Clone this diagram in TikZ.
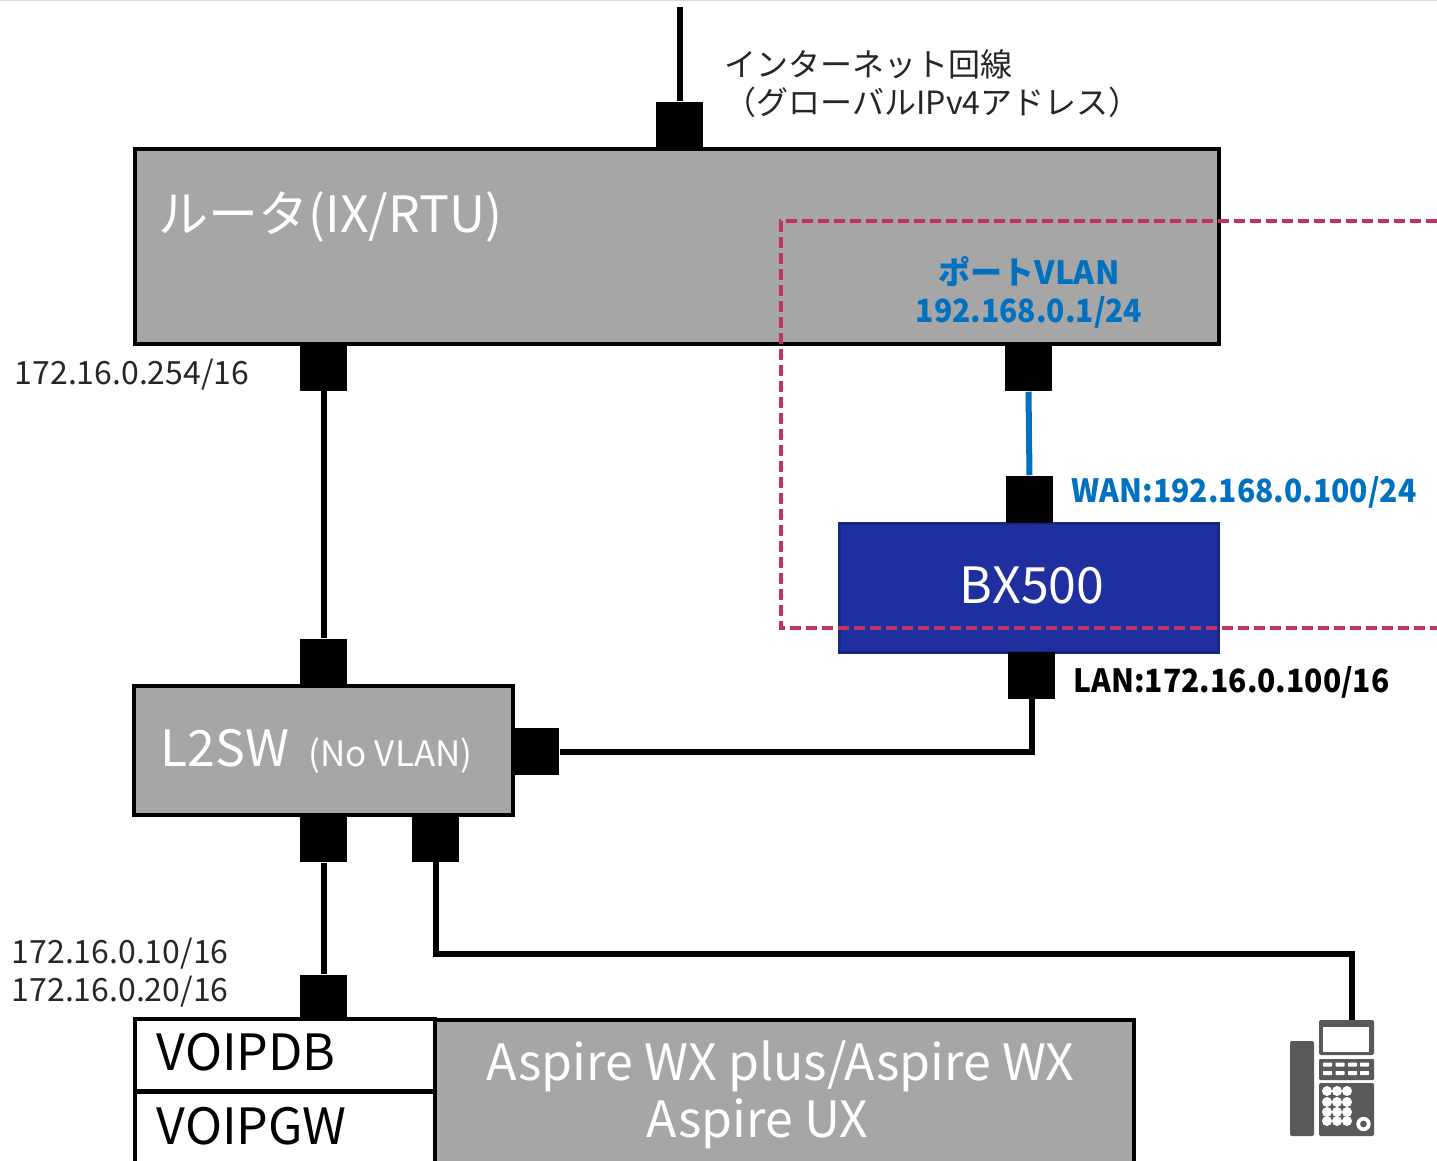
\documentclass[tikz,border=0pt]{standalone}
\usepackage{fontspec}
\setmainfont{Noto Sans CJK JP}
\newfontfamily\narrowcjk[FakeStretch=0.94]{Noto Sans CJK JP}
\tikzset{every picture/.style={line width=0.75pt}}
\definecolor{boxgray}{HTML}{A6A6A6}
\definecolor{bxblue}{HTML}{1F2F9F}
\definecolor{vlanblue}{HTML}{0070C0}
\definecolor{zonered}{HTML}{C4325F}
\definecolor{telgray}{HTML}{595959}
\tikzset{
  devbox/.style={draw=black,line width=2pt,fill=boxgray,inner sep=0pt},
  whitebox/.style={draw=black,line width=2pt,fill=white,inner sep=0pt},
  port/.style={fill=black,inner sep=0pt,minimum width=23.5pt,minimum height=23.5pt},
  wire/.style={line width=3pt,black},
  lbl/.style={inner sep=0pt,anchor=base west},
  devtxt/.style={lbl,white,font=\fontsize{25}{29}\selectfont},
  addr/.style={lbl,black!85,font=\fontsize{16}{19}\selectfont},
  vlanaddr/.style={lbl,font=\narrowcjk\bfseries\fontsize{16}{19}\selectfont},
  softkey/.style={fill=white,rounded corners=0.3pt},
}

\begin{document}
\begin{tikzpicture}[x=0.5pt,y=-0.5pt]
    \useasboundingbox (0,0) rectangle (1437,1161);
    \clip (0,0) rectangle (1437,1161);
    \draw[black!15,line width=1pt] (0,0) -- (1437,0);

    % 機器
    \node[devbox,minimum width=542pt,minimum height=97.5pt] (router) at (677,246.5) {};
    \node[devbox,minimum width=189.5pt,minimum height=64.5pt] (sw) at (323.5,750.5) {};
    \node[draw=bxblue!80!black,line width=1.5pt,fill=bxblue,inner sep=0pt,minimum width=189.5pt,minimum height=64.5pt] (bx) at (1029,588) {};
    \node[devbox,minimum width=349.5pt,minimum height=90pt] (aspire) at (784.5,1110) {};
    \node[whitebox,minimum width=150pt,minimum height=36pt] (voipdb) at (285,1055) {};
    \node[whitebox,minimum width=150pt,minimum height=100pt] (voipgw) at (285,1192) {};

    % ポート
    \node[port] (pinet) at (679.5,125.5) {};
    \node[port] (prouterl) at (323.5,367) {};
    \node[port] (prouterr) at (1028.5,367.5) {};
    \node[port] (pwan) at (1029.5,499.5) {};
    \node[port] (plan) at (1031.5,675) {};
    \node[port] (pswtop) at (323.5,662.5) {};
    \node[port] (pswr) at (535.5,751.5) {};
    \node[port] (pswb) at (323.5,838.5) {};
    \node[port] (pswtel) at (435.5,838) {};
    \node[port,minimum height=22pt] (pvoip) at (323.5,997) {};

    % 配線
    \coordinate (inet) at (679.5,7);
    \coordinate (telbend) at (1352,954);
    \coordinate (telin) at (1352,1021);
    \draw[wire] (inet) -- (pinet.north);
    \draw[wire] (prouterl.south) -- (pswtop.north);
    \draw[wire] (pswb.south) -- (pvoip.north);
    \draw[wire] (pswr.east) -| (plan.south);
    \draw[wire] (pswtel.south) |- (telbend) -- (telin);
    \draw[vlanblue,line width=3pt] (prouterr.south) -- (pwan.north);

    % 破線の範囲
    \draw[zonered,line width=2pt,dash pattern=on 5.7pt off 2.3pt] (1437,221) -- (781,221) -- (781,628) -- (1437,628);

    % 文字
    \node[devtxt] (trouter) at (158,233) {ルータ(IX/RTU)};
    \node[devtxt] (tbx) at (959,603) {BX500};
    \node[devtxt] (tsw) at (160,766) {L2SW};
    \node[lbl,white,font=\fontsize{17.5}{21}\selectfont] (tnovlan) at (308,766) {(No VLAN)};
    \node[devtxt] (taspire) at (486,1080) {Aspire WX plus/Aspire WX};
    \node[devtxt] (taspireux) at (646,1137) {Aspire UX};
    \node[lbl,black,font=\fontsize{25}{29}\selectfont] (tdb) at (156,1070) {VOIPDB};
    \node[lbl,black,font=\fontsize{25}{29}\selectfont] (tgw) at (156,1144) {VOIPGW};
    \node[addr] (tinet) at (724,77) {インターネット回線};
    \node[addr] (tglobal) at (724,115) {（グローバルIPv4アドレス）};
    \node[addr] (trouterip) at (14,384) {172.16.0.254/16};
    \node[addr] (tdbip) at (11,963) {172.16.0.10/16};
    \node[addr] (tgwip) at (11,1001) {172.16.0.20/16};
    \node[vlanblue,inner sep=0pt,align=center,font=\bfseries\fontsize{16}{19}\selectfont] (tvlan) at (1029,292) {ポートVLAN\\{\narrowcjk\bfseries 192.168.0.1/24}};
    \node[vlanaddr,vlanblue] (twan) at (1071,502) {WAN:192.168.0.100/24};
    \node[vlanaddr,black] (tlan) at (1073,692) {LAN:172.16.0.100/16};

    % 電話機
    \fill[telgray,rounded corners=1pt] (1290,1041) rectangle (1314,1136);
    \fill[telgray,rounded corners=1pt] (1319,1020) rectangle (1374,1055);
    \fill[white] (1323,1027) rectangle (1369,1052);
    \fill[telgray,rounded corners=0.5pt] (1319,1059) rectangle (1374,1080);
    \fill[telgray,rounded corners=1pt] (1319,1083) rectangle (1374,1136);
    \foreach \kx in {1323,1335.5,1348,1360}
        \foreach \ky in {1062.5,1071}
            \fill[softkey] (\kx,\ky) rectangle (\kx+9,\ky+4);
    \foreach \kx in {1327,1337,1347}
        \foreach \ky in {1091,1102,1112,1121}
            \fill[white] (\kx,\ky) circle (2.5pt);
    \fill[white] (1363.5,1124) circle (3.6pt);
    \fill[telgray] (1363.5,1124) circle (1.7pt);
\end{tikzpicture}
\end{document}
